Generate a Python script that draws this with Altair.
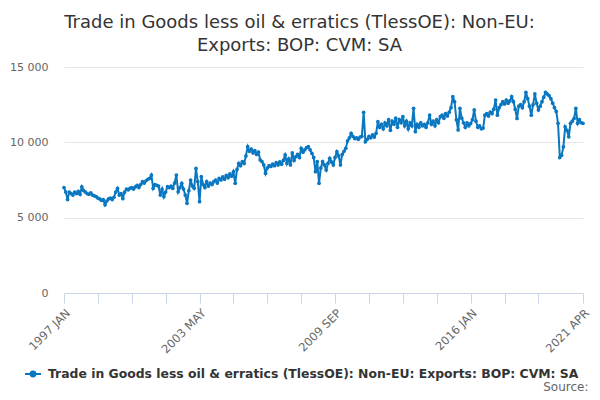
import altair as alt
import pandas as pd

SERIES = "Trade in Goods less oil & erratics (TlessOE): Non-EU: Exports: BOP: CVM: SA"
TITLE_LINES = ["Trade in Goods less oil & erratics (TlessOE): Non-EU:", "Exports: BOP: CVM: SA"]

years = list(range(1997, 2022))
month_names = ["JAN", "FEB", "MAR", "APR", "MAY", "JUN", "JUL", "AUG", "SEP", "OCT", "NOV", "DEC"]
months = [f"{y} {m}" for y in years for m in month_names][:292]  # 1997 JAN .. 2021 APR

values = [
    # 1997
    7000, 6700, 6200, 6700, 6600, 6500, 6700, 6600, 6750, 6550, 7050, 6800,
    # 1998
    6700, 6600, 6550, 6650, 6500, 6450, 6400, 6300, 6250, 6150, 6200, 5850,
    # 1999
    6100, 6250, 6300, 6200, 6350, 6700, 6950, 6500, 6600, 6280, 6700, 6900,
    # 2000
    6850, 6950, 7000, 6900, 7050, 7150, 7000, 7200, 7390, 7300, 7450, 7550,
    # 2001
    7600, 7830, 6950, 7200, 7150, 7100, 6500, 6900, 6390, 6700, 7060, 7000,
    # 2002
    7100, 6950, 7300, 7830, 6720, 7000, 7280, 6900, 6500, 5950, 6800, 7500,
    # 2003
    7100, 6950, 8270, 7400, 6060, 7720, 7200, 7000, 7390, 7100, 7300, 7200,
    # 2004
    7390, 7500, 7300, 7600, 7500, 7700, 7550, 7800, 7650, 7900, 7750, 8050,
    # 2005
    7280, 8200, 8610, 8450, 8720, 8600, 9100, 9710, 9400, 9550, 9300, 9450,
    # 2006
    9200, 9350, 8830, 8720, 8500, 7940, 8300, 8450, 8400, 8550, 8450, 8650,
    # 2007
    8500, 8700, 8550, 8800, 9160, 8600, 8900, 8500, 9300, 8800, 9050, 9200,
    # 2008
    9000, 9600, 9350, 9500, 9650, 9710, 9500, 9270, 9000, 8050, 8720, 7280,
    # 2009
    8300, 8720, 8500, 8170, 8600, 8940, 8700, 8500, 9000, 9380, 9100, 8500,
    # 2010
    9200, 9400, 9600, 10100, 10300, 10600, 10400, 10250, 10300, 10200, 10350, 10400,
    # 2011
    11990, 10040, 10200, 10400, 10300, 10500, 10350, 10600, 11370, 11000, 11200, 10900,
    # 2012
    11300, 11100, 11500, 10800, 11400, 11200, 11600, 11000, 11500, 11300, 11700, 11100,
    # 2013
    11400, 10900, 11300, 11100, 12260, 10710, 11200, 11000, 11300, 11100, 11200, 11000,
    # 2014
    11300, 11810, 11200, 11400, 11100, 11500, 11300, 11700, 11800, 11600, 11900, 11750,
    # 2015
    12000, 12300, 13030, 12700, 11500, 10820, 12260, 11600, 11300, 11000, 11300, 11100,
    # 2016
    11250, 11500, 12150, 11400, 11000, 11100, 10900, 10950, 11800, 11900, 11750, 12000,
    # 2017
    11900, 12200, 12810, 11800, 12300, 12500, 12700, 12550, 12800, 12600, 12750, 13030,
    # 2018
    12700, 12200, 11590, 12400, 12500, 12300, 12700, 13320, 12900, 12400, 11800, 12500,
    # 2019
    13210, 12600, 12150, 12400, 12700, 13000, 13320, 13200, 13100, 12900, 12600, 12300,
    # 2020
    12050, 11260, 9000, 9150, 9700, 11030, 10800, 10370, 11260, 11400, 11590, 12260,
    # 2021
    11260, 11500, 11300, 11260,
]

tick_positions = [0, 19, 38, 57, 76, 95, 114, 133, 152, 171, 190, 209, 228, 247, 266, 291]
labelled_ticks = [0, 76, 152, 228, 291]
y_ticks = [0, 5000, 10000, 15000]

df = pd.DataFrame({"idx": list(range(len(values))), "month": months, "value": values, "series": SERIES})

label_expr = " : ".join(
    f"datum.value == {i} ? '{months[i]}'" for i in labelled_ticks
) + " : ''"

LINE_COLOR = "#0a77c0"

chart = (
    alt.Chart(df)
    .mark_line(strokeWidth=2, point=alt.OverlayMarkDef(size=14, filled=True, opacity=1))
    .encode(
        x=alt.X(
            "idx:Q",
            scale=alt.Scale(domain=[0, len(values) - 1], nice=False, zero=False),
            axis=alt.Axis(
                values=tick_positions,
                labelExpr=label_expr,
                labelAngle=-45,
                labelFontSize=11.5,
                labelColor="#666666",
                labelFont="DejaVu Sans",
                labelPadding=4,
                grid=False,
                domainColor="#ccd6eb",
                tickColor="#ccd6eb",
                tickSize=10,
                title="Source:",
                titleFont="DejaVu Sans",
                titleFontSize=12,
                titleFontWeight="normal",
                titleColor="#666666",
                titleAnchor="end",
                titleAlign="right",
                titleBaseline="alphabetic",
                titleX=524,
                titleY=97,
                labelOverlap=False,
            ),
        ),
        y=alt.Y(
            "value:Q",
            scale=alt.Scale(domain=[0, 15000], nice=False),
            axis=alt.Axis(
                values=y_ticks,
                labelExpr="replace(format(datum.value, ','), ',', ' ')",
                labelFontSize=11,
                labelColor="#666666",
                labelFont="DejaVu Sans",
                labelPadding=16,
                domain=False,
                ticks=False,
                gridColor="#e6e6e6",
                title=None,
            ),
        ),
        color=alt.Color(
            "series:N",
            scale=alt.Scale(range=[LINE_COLOR]),
            legend=alt.Legend(
                title=None,
                orient="none",
                legendX=-40,
                legendY=298,
                labelFont="DejaVu Sans",
                labelFontSize=12.4,
                labelFontWeight="bold",
                labelColor="#333333",
                labelLimit=700,
                padding=0,
                symbolType="M-1,0L1,0M0.3,0A0.3,0.3,0,1,1,-0.3,0A0.3,0.3,0,1,1,0.3,0",
                symbolSize=256,
                symbolStrokeWidth=2,
                symbolFillColor=LINE_COLOR,
                symbolStrokeColor=LINE_COLOR,
                labelOffset=6,
            ),
        ),
        tooltip=["month:N", "value:Q"],
    )
    .properties(
        width=519,
        height=226,
        padding={"left": 56, "top": 59, "right": 9, "bottom": 99},
        autosize=alt.AutoSizeParams(type="none"),
        title=alt.TitleParams(
            text=TITLE_LINES,
            font="DejaVu Sans",
            fontSize=18,
            fontWeight="normal",
            color="#333333",
            anchor="middle",
            dx=-24,
            offset=6,
            lineHeight=23,
        ),
    )
    .configure(background="white")
    .configure_view(stroke=None)
)

chart.save("out.html", embed_options={"renderer": "svg", "actions": False})
